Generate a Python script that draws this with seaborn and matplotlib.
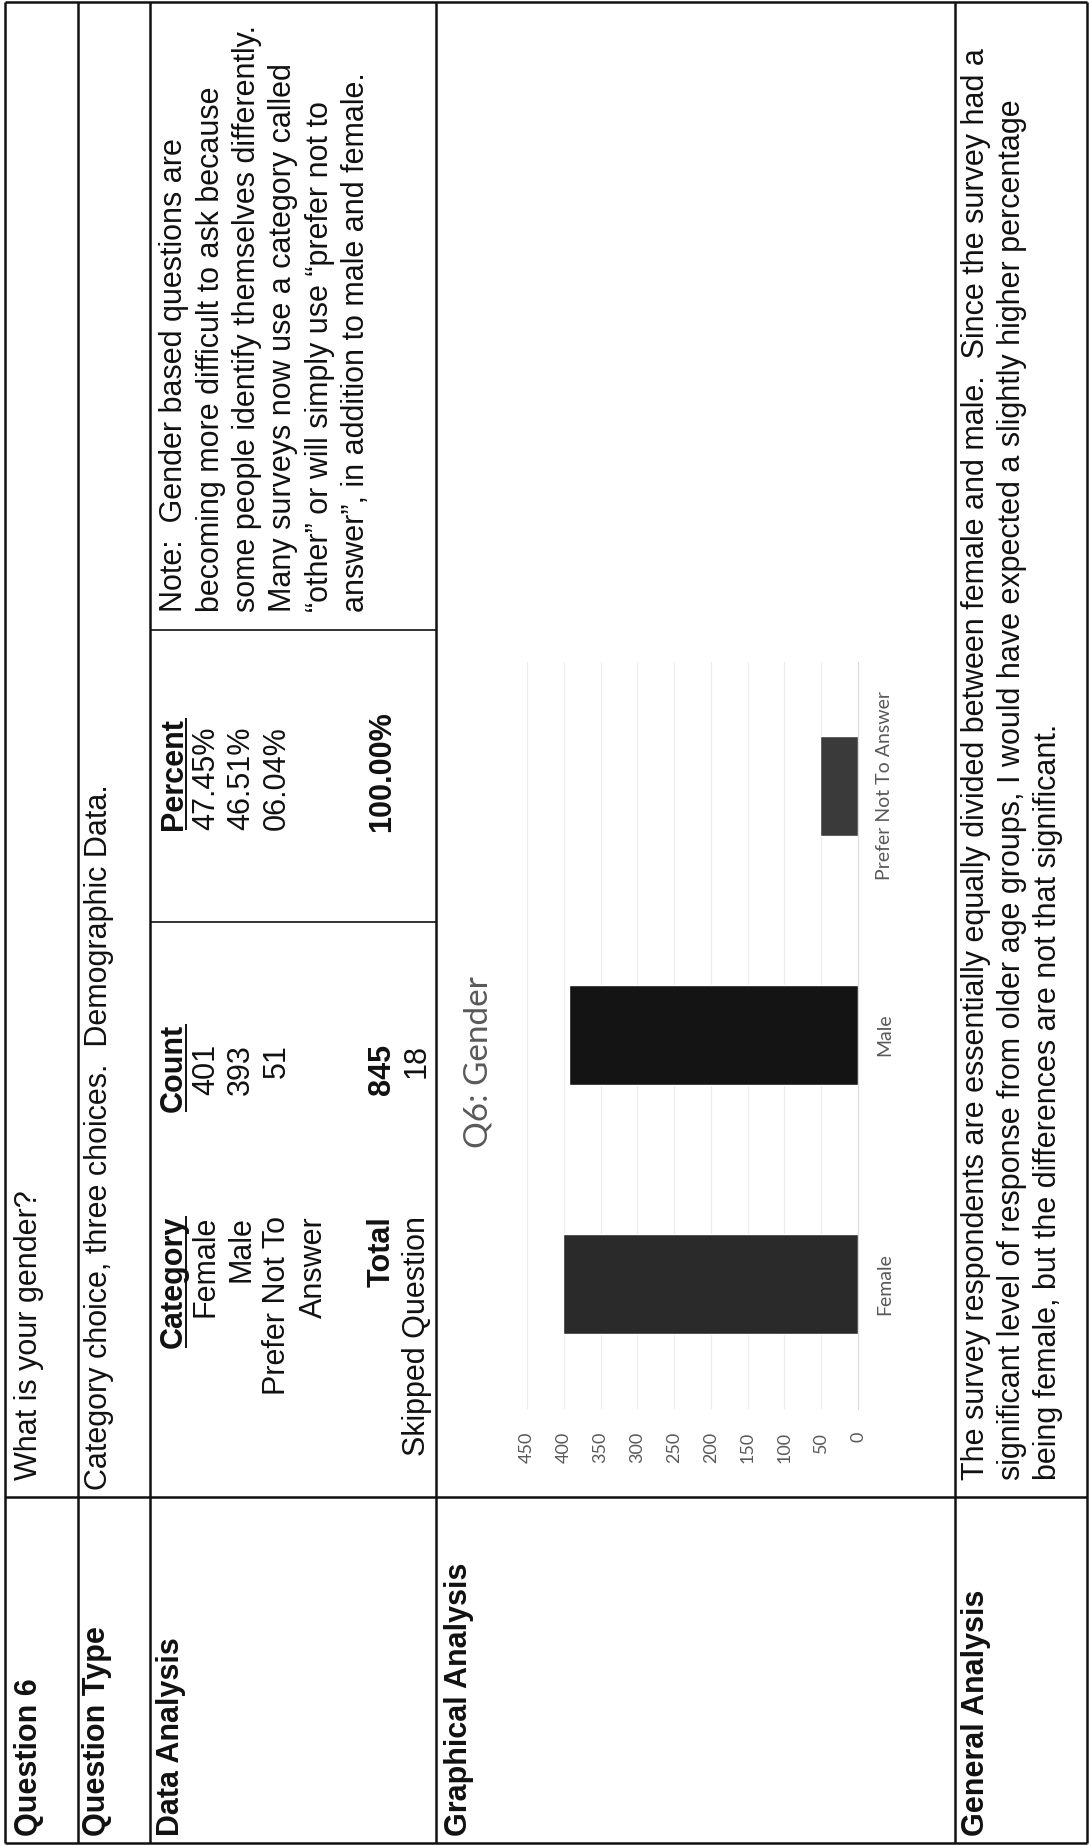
"""
Survey report page, Question 6 (gender) - scanned page is rotated 90 degrees,
so the whole table is drawn sideways: text reads bottom-to-top and the bar
chart grows to the left.
"""

import matplotlib

matplotlib.use("Agg")
import matplotlib.pyplot as plt
import pandas as pd
import seaborn as sns

# ─── Data ───
categories = ["Female", "Male", "Prefer Not To Answer"]
counts = [401, 393, 51]
percents = ["47.45%", "46.51%", "06.04%"]
total_count = "845"
total_percent = "100.00%"
skipped_count = "18"
value_ticks = [0, 50, 100, 150, 200, 250, 300, 350, 400, 450]
bar_colors = {"Female": "#2a2a2a", "Male": "#141414", "Prefer Not To Answer": "#3a3a3a"}

row_labels = ["Question 6", "Question Type", "Data Analysis", "Graphical Analysis", "General Analysis"]
question_text = "What is your gender?"
type_text = "Category choice, three choices.  Demographic Data."
category_cells = ["Female", "Male", "Prefer Not To", "Answer"]
note_lines = [
    "Note:  Gender based questions are",
    "becoming more difficult to ask because",
    "some people identify themselves differently.",
    "Many surveys now use a category called",
    "\u201cother\u201d or will simply use \u201cprefer not to",
    "answer\u201d, in addition to male and female.",
]
general_lines = [
    "The survey respondents are essentially equally divided between female and male.  Since the survey had a",
    "significant level of response from older age groups, I would have expected a slightly higher percentage",
    "being female, but the differences are not that significant.",
]
chart_title = "Q6: Gender"

# ─── Page geometry (pixels of the rotated scan) ───
W, H = 1089, 1845
DPI = 100
BODY = 22
INK = "#111111"
GREY = "#595959"

sns.set_style("white")
plt.rcParams["font.family"] = ["Liberation Sans", "DejaVu Sans"]

fig = plt.figure(figsize=(W / DPI, H / DPI), dpi=DPI)
page = fig.add_axes([0, 0, 1, 1])
page.set_xlim(0, W)
page.set_ylim(H, 0)
page.axis("off")


def vtext(x, y, s, ha="left", bold=False, size=BODY):
    # x = baseline position, y = start (ha=left) or end (ha=right) of the string
    return page.text(x, y, s, rotation=90, rotation_mode="anchor", ha=ha, va="baseline",
                     fontsize=size, fontweight="bold" if bold else "normal", color=INK)


# ─── Table grid ───
for x in [5, 78, 150, 436, 955, 1087]:
    page.plot([x, x], [2, 1843], color=INK, lw=1.8, solid_capstyle="butt")
for y in [2, 1497, 1843]:
    page.plot([5, 1087], [y, y], color=INK, lw=1.8, solid_capstyle="butt")
for y in [630, 922]:
    page.plot([150, 436], [y, y], color=INK, lw=1.2, solid_capstyle="butt")

# ─── Left column labels ───
for label, bx in zip(row_labels, [37, 105, 179, 467, 984]):
    vtext(bx, 1836, label, bold=True)

vtext(37, 1480, question_text)
vtext(107, 1490, type_text)

# ─── Data analysis cell ───
headers = []
headers.append((vtext(182, 1216, "Category", ha="right", bold=True), 182, 1216, "right"))
headers.append((vtext(182, 1112, "Count", bold=True), 182, 1112, "left"))
headers.append((vtext(182, 830, "Percent", bold=True), 182, 830, "left"))

cat_base = [214, 249, 285, 322]
for s, bx in zip(category_cells, cat_base):
    vtext(bx, 1216, s, ha="right")
for c, p, bx in zip(counts, percents, cat_base):
    vtext(bx, 1044, str(c), ha="right")
    vtext(bx, 830, p)

vtext(390, 1216, "Total", ha="right", bold=True)
vtext(390, 1044, total_count, ha="right", bold=True)
vtext(390, 832, total_percent, bold=True)
vtext(425, 1216, "Skipped Question", ha="right")
vtext(425, 1044, skipped_count, ha="right")

for i, line in enumerate(note_lines):
    vtext(182 + i * 36.5, 612, line)

# ─── General analysis ───
for i, line in enumerate(general_lines):
    vtext(984 + i * 36, 1480, line)

# ─── Bar chart (value axis runs right-to-left) ───
ax = fig.add_axes([527 / W, 1 - 1408.5 / H, 331 / W, 747 / H])
df = pd.DataFrame({"Category": categories, "Count": counts})
sns.barplot(data=df, x="Count", y="Category", hue="Category", palette=bar_colors,
            orient="h", width=0.4, saturation=1, legend=False, ax=ax)
ax.set_xlim(450, 0)
ax.set_ylim(-0.5, 2.5)
ax.set_xticks(value_ticks)
ax.set_xticklabels([str(v) for v in value_ticks], rotation=90, fontsize=13,
                   color=GREY, family="Lato")
ax.yaxis.tick_right()
ax.set_yticks(range(len(categories)))
ax.set_yticklabels(categories, rotation=90, va="center", fontsize=14, color=GREY, family="Lato")
ax.tick_params(axis="x", length=0, pad=17)
ax.tick_params(axis="y", length=0, pad=13)
ax.set_xlabel("")
ax.set_ylabel("")
ax.grid(axis="x", color="#ececec", lw=0.8)
ax.grid(axis="y", visible=False)
ax.set_axisbelow(True)
for side in ["top", "left", "bottom"]:
    ax.spines[side].set_visible(False)
ax.spines["right"].set_color("#d9d9d9")

page.text(478, 1062, chart_title, rotation=90, ha="center", va="center",
          fontsize=24, family="Lato", color=GREY)

# ─── Underline the column headers ───
fig.canvas.draw()
renderer = fig.canvas.get_renderer()
for t, bx, y0, ha in headers:
    length = t.get_window_extent(renderer).height
    y1 = y0 - length if ha == "left" else y0 + length
    page.plot([bx + 4, bx + 4], [y0, y1], color=INK, lw=1.4, solid_capstyle="butt")

fig.savefig("out.png", dpi=DPI)
plt.close(fig)
